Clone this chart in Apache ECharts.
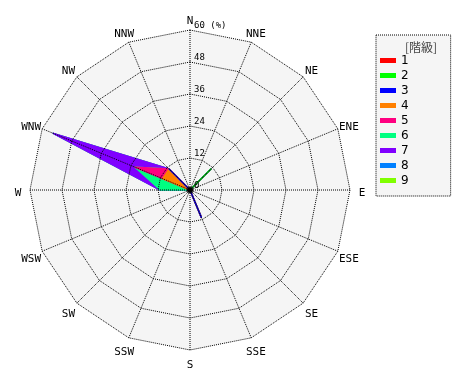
<!DOCTYPE html>
<html><head><meta charset="utf-8">
<script src="https://cdn.jsdelivr.net/npm/echarts@6/dist/echarts.min.js"></script>
<style>html,body{margin:0;padding:0;background:#fff}#c{width:470px;height:380px}</style>
</head><body><div id="c"></div>
<script>
// 16 wind directions, clockwise from North
const directions = ['N','NNE','NE','ENE','E','ESE','SE','SSE','S','SSW','SW','WSW','W','WNW','NW','NNW'];
const classNames = ['1','2','3','4','5','6','7','8','9'];
const classColors = ['#ff0000','#00ff00','#0000ff','#ff8000','#ff0080','#00ff80','#8000ff','#0080ff','#80ff00'];
// frequency (%) per direction for each class
//             N  NNE  NE  ENE E ESE SE  SSE  S SSW SW WSW  W    WNW   NW  NNW
const class1 = [0, 0,  0,   0, 0, 0, 0,  0,   0, 0, 0, 0,   0,   0,    0,   0];
const class2 = [0, 0,  11.1,0, 0, 0, 0,  0,   0, 0, 0, 0,   0,   0,    0,   0];
const class3 = [0, 0,  0,   0, 0, 0, 0,  11.1,0, 0, 0, 0,   0,   0,    11.1,0];
const class4 = [0, 0,  0,   0, 0, 0, 0,  0,   0, 0, 0, 0,   0,   11.1, 0,   0];
const class5 = [0, 0,  0,   0, 0, 0, 0,  0,   0, 0, 0, 0,   0,   11.1, 0,   0];
const class6 = [0, 0,  0,   0, 0, 0, 0,  0,   0, 0, 0, 0,   11.1,0,    0,   0];
const class7 = [0, 0,  0,   0, 0, 0, 0,  0,   0, 0, 0, 0,   0,   33.3, 0,   0];
const class8 = [0, 0,  0,   0, 0, 0, 0,  0,   0, 0, 0, 0,   0,   0,    0,   0];
const class9 = [0, 0,  0,   0, 0, 0, 0,  0,   0, 0, 0, 0,   0,   0,    0,   0];
const radialMin = 0, radialMax = 60, radialSplits = 5;
const legendTitle = '[階級]';

const classData = [class1,class2,class3,class4,class5,class6,class7,class8,class9];
const CENTER = [190, 190], RADIUS = 160;
const DOTTED = { color: '#000', width: 1, type: 'dotted' };

// radar indicators go counter-clockwise: reorder so the directions run clockwise
const order = directions.map((d, i) => (directions.length - i) % directions.length);

// cumulative (stacked) values
const cumul = [];
let run = directions.map(() => 0);
classData.forEach(arr => { run = run.map((v, i) => v + arr[i]); cumul.push(run.slice()); });

const series = [];
for (let k = classNames.length - 1; k >= 0; k--) {
  series.push({
    type: 'radar', radarIndex: 0, name: classNames[k], color: classColors[k],
    symbol: 'none', silent: true, z: 2,
    lineStyle: { color: classColors[k], width: 1.5, join: 'round', cap: 'round' },
    areaStyle: { color: classColors[k], opacity: 1 },
    data: [{ name: classNames[k], value: order.map(i => cumul[k][i]) }]
  });
}

const chart = echarts.init(document.getElementById('c'));
chart.setOption({
  animation: false,
  title: { text: legendTitle, left: 416, top: 36, textAlign: 'center',
    textStyle: { fontSize: 12, fontWeight: 'normal', color: '#444', fontFamily: 'Noto Sans CJK JP' } },
  legend: {
    data: classNames, orient: 'vertical', left: 376, top: 35,
    padding: [19, 42, 9, 4], itemWidth: 16, itemHeight: 5, itemGap: 2, icon: 'rect',
    selectedMode: false, backgroundColor: '#f5f5f5',
    borderColor: '#000', borderWidth: 1, borderType: [1, 1],
    textStyle: { fontSize: 12, lineHeight: 13, color: '#000', fontFamily: 'DejaVu Sans' }
  },
  radar: [{
    // background + direction names (below the data)
    center: CENTER, radius: RADIUS, startAngle: 90, shape: 'polygon', splitNumber: radialSplits, z: 1,
    indicator: order.map(i => ({ name: directions[i], min: radialMin, max: radialMax })),
    axisName: { color: '#000', fontFamily: 'DejaVu Sans Mono', fontSize: 11, align: 'center',
      verticalAlign: 'middle', lineHeight: 6, formatter: n => '\n' + n },
    nameGap: 12,
    axisLine: { show: false },
    splitLine: { show: false },
    splitArea: { show: true, areaStyle: { color: ['#f5f5f5'] } },
    axisTick: { show: false },
    axisLabel: { show: false }
  }, {
    // dotted rings + radial tick labels (above the data)
    center: CENTER, radius: RADIUS, startAngle: 90, shape: 'polygon', splitNumber: radialSplits, z: 5,
    indicator: order.map(i => {
      const ind = { name: '', min: radialMin, max: radialMax };
      if (i === 0) ind.axisLabel = { show: true, fontSize: 9, color: '#000', fontFamily: 'DejaVu Sans Mono',
        margin: -4, align: 'left', verticalAlign: 'bottom',
        formatter: v => v === radialMax ? v + ' (%)' : String(v) };
      return ind;
    }),
    axisName: { show: false },
    axisLine: { show: false },
    splitLine: { lineStyle: DOTTED },
    splitArea: { show: false },
    axisTick: { show: false },
    axisLabel: { show: false }
  }],
  polar: { center: CENTER, radius: RADIUS },
  angleAxis: {
    type: 'category', data: directions, startAngle: 90, clockwise: true, boundaryGap: false, z: 5,
    axisLine: { show: false }, axisTick: { show: false }, axisLabel: { show: false },
    splitLine: { show: true, lineStyle: DOTTED }, splitArea: { show: false }
  },
  radiusAxis: { show: false, min: radialMin, max: radialMax },
  graphic: [{ type: 'circle', shape: { cx: CENTER[0], cy: CENTER[1], r: 3 }, style: { fill: '#000' }, z: 100, silent: true }],
  series: series
});
</script></body></html>
